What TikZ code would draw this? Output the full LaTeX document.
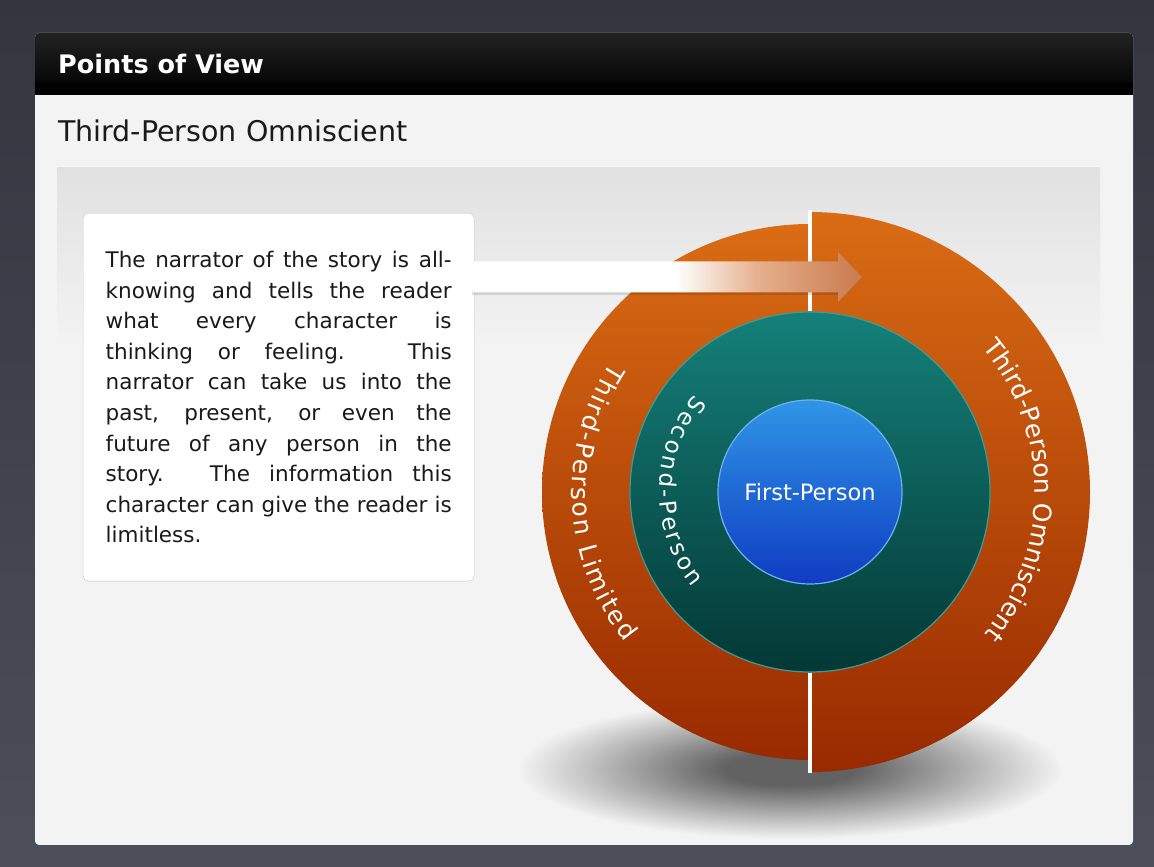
\documentclass[tikz,border=0pt]{standalone}
\usepackage{fontspec}
\setmainfont{DejaVu Sans}
\usetikzlibrary{decorations.text,calc}
\definecolor{bgtop}{HTML}{33353F}
\definecolor{bgbot}{HTML}{4C4E5A}
\definecolor{panelbg}{HTML}{F3F3F3}
\definecolor{stagetop}{HTML}{E1E1E1}
\definecolor{hdrtop}{HTML}{222222}
\definecolor{boxline}{HTML}{C4C4C4}
\definecolor{orgtop}{HTML}{D96C14}
\definecolor{orgbot}{HTML}{992A00}
\definecolor{tealtop}{HTML}{15807A}
\definecolor{tealbot}{HTML}{033835}
\definecolor{tealrim}{HTML}{3E9C95}
\definecolor{bluetop}{HTML}{2F95E6}
\definecolor{bluebot}{HTML}{0F3CC2}
\definecolor{bluerim}{HTML}{6AB4F0}
\definecolor{arrowmid}{HTML}{E4AE8A}
\definecolor{arrowend}{HTML}{C97A4E}
\definecolor{shd}{HTML}{626262}
\definecolor{ink}{HTML}{1A1A1A}
\pgfdeclarehorizontalshading{arrowshade}{100bp}{color(0bp)=(white); color(51bp)=(white); color(62bp)=(arrowmid); color(75bp)=(arrowend); color(100bp)=(arrowend)}
\pgfdeclareradialshading{softshadow}{\pgfpoint{0bp}{0bp}}{color(0bp)=(shd); color(6bp)=(shd); color(25bp)=(panelbg); color(50bp)=(panelbg)}
\newcommand\titlefnt{\fontsize{25.5}{30}\selectfont\bfseries}
\newcommand\subfnt{\fontsize{28.5}{34}\selectfont}
\newcommand\boxfnt{\fontsize{21.5}{30.6}\selectfont}
\newcommand\ringfnt{\fontsize{25}{28}\selectfont}
\newcommand\secfnt{\fontsize{23}{26}\selectfont}
\newcommand\firstfnt{\fontsize{22.5}{26}\selectfont}
\tikzset{
  halfring/.style={top color=orgtop, bottom color=orgbot},
  ringtext/.style={decorate, decoration={text along path, text={#1}, text align={fit to path}, text color=white}},
  divider/.style={white, line width=3.5pt}
}
\begin{document}
\begin{tikzpicture}[x=1pt,y=1pt]
\useasboundingbox (0,0) rectangle (1154,867);
% background
\shade[top color=bgtop, bottom color=bgbot] (0,0) rectangle (1154,867);
% panel
\fill[panelbg, rounded corners=4] (35,22) rectangle (1133,834);
% header
\shade[top color=hdrtop, bottom color=black, rounded corners=4] (35,772) rectangle (1133,834);
\fill[black] (35,772) rectangle (1133,785);
\node (title) [anchor=base west, inner sep=0, text=white, font=\titlefnt] at (58,793) {Points of View};
\node (subtitle) [anchor=base west, inner sep=0, text=ink, font=\subfnt] at (58,725) {Third-Person Omniscient};
% stage
\shade[top color=stagetop, bottom color=panelbg] (57,520) rectangle (1100,700);
\draw[white!70!stagetop, line width=1pt] (57,700) -- (1100,700);
% shadow
\begin{scope}
\clip (35,24) rectangle (1133,700);
\shade[shading=softshadow] (790,98) ellipse [x radius=272, y radius=70];
\end{scope}
% orange halves
\shade[halfring] (810,375) -- ++(0,268) arc[start angle=90, end angle=270, radius=268] -- cycle;
\shade[halfring] (810,375) -- ++(0,280) arc[start angle=90, end angle=-90, radius=280] -- cycle;
% teal and blue circles
\node (second) [circle, minimum size=360, inner sep=0, draw=tealrim, line width=1.2pt, top color=tealtop, bottom color=tealbot] at (810,375) {};
\node (first) [circle, minimum size=184, inner sep=0, draw=bluerim, line width=1.2pt, top color=bluetop, bottom color=bluebot, text=white, font=\firstfnt] at (810,375) {First-Person};
% dividers
\coordinate (wtop) at (810,657);
\coordinate (wbot) at (810,94);
\draw[divider] (wtop) -- (second.north);
\draw[divider] (second.south) -- (wbot);
% ring texts
\path[ringtext={|\ringfnt|Third-Person Limited}] ([shift={(810,375)}]147:238) arc[start angle=147, end angle=219, radius=238];
\path[ringtext={|\ringfnt|Third-Person Omniscient}] ([shift={(810,375)}]40:225) arc[start angle=40, end angle=-39, radius=225];
\path[ringtext={|\secfnt|Second-Person}] ([shift={(810,375)}]140:151) arc[start angle=140, end angle=219, radius=151];
% text box
\node (tb) [draw=boxline, fill=white, rounded corners=5, anchor=north west, minimum width=391, minimum height=368, text width=346, inner xsep=22.5, inner ysep=0, align=justify, text=ink, font=\boxfnt] at (83,654) {\hyphenpenalty=10000 The narrator of the story is all-\linebreak knowing and tells the reader\linebreak what every character is\linebreak thinking or feeling.  This\linebreak narrator can take us into the\linebreak past, present, or even the\linebreak future of any person in the\linebreak story.  The information this\linebreak character can give the reader is\linebreak limitless.};
% arrow
\coordinate (atip) at (862,590);
\coordinate (astart) at (tb.east |- atip);
\fill[black, opacity=0.12] ([shift={(-2,-13.5)}]astart) -- ([shift={(-24,-13.5)}]atip) -- ([shift={(-24,-18.5)}]atip) -- ([shift={(-2,-18.5)}]astart) -- cycle;
\shade[shading=arrowshade] ([shift={(-2,15.5)}]astart) -- ([shift={(-24,15.5)}]atip) -- ([shift={(-24,25)}]atip) -- (atip) -- ([shift={(-24,-25)}]atip) -- ([shift={(-24,-15.5)}]atip) -- ([shift={(-2,-15.5)}]astart) -- cycle;
\end{tikzpicture}
\end{document}
